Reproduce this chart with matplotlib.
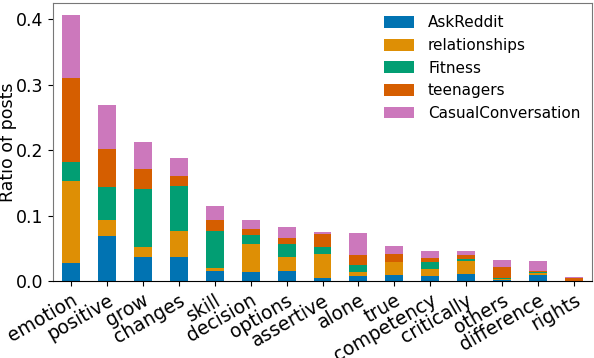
import matplotlib
matplotlib.use("Agg")
import matplotlib.pyplot as plt
import numpy as np

categories = ["emotion", "positive", "grow", "changes", "skill", "decision", "options",
              "assertive", "alone", "true", "competency", "critically", "others",
              "difference", "rights"]
askreddit = [0.027, 0.069, 0.036, 0.037, 0.015, 0.014, 0.016, 0.004, 0.008, 0.009, 0.007, 0.010, 0.001, 0.009, 0.000]
relationships = [0.126, 0.024, 0.016, 0.039, 0.005, 0.043, 0.020, 0.038, 0.006, 0.020, 0.012, 0.021, 0.0015, 0.003, 0.000]
fitness = [0.029, 0.050, 0.089, 0.069, 0.056, 0.014, 0.021, 0.0095, 0.011, 0.0, 0.010, 0.003, 0.002, 0.002, 0.0]
teenagers = [0.129, 0.059, 0.030, 0.016, 0.018, 0.009, 0.008, 0.020, 0.014, 0.012, 0.006, 0.006, 0.0165, 0.0015, 0.005]
casual = [0.095, 0.067, 0.041, 0.027, 0.021, 0.014, 0.018, 0.0035, 0.034, 0.012, 0.011, 0.006, 0.0105, 0.0148, 0.001]

series = [("AskReddit", askreddit, "#0173b2"),
          ("relationships", relationships, "#de8f05"),
          ("Fitness", fitness, "#029e73"),
          ("teenagers", teenagers, "#d55e00"),
          ("CasualConversation", casual, "#cc78bc")]

fig = plt.figure(figsize=(5.94, 3.58), dpi=100)
ax = fig.add_axes([53/594, 1 - 281/358, (592-53)/594, (281-3)/358])

x = np.arange(len(categories))
bottom = np.zeros(len(categories))
for name, vals, col in series:
    v = np.array(vals)
    ax.bar(x, v, width=0.5, bottom=bottom, color=col, label=name)
    bottom += v

ax.set_xlim(-0.5, len(categories) - 0.5)
ax.set_ylim(0, 0.425)
ax.set_yticks([0.0, 0.1, 0.2, 0.3, 0.4])
ax.set_xticks(x)
ax.set_xticklabels(categories, rotation=30, ha="right", rotation_mode="anchor", fontsize=13.5)
ax.tick_params(axis="y", labelsize=12.5)
ax.set_ylabel("Ratio of posts", fontsize=12.5)
ax.yaxis.set_label_coords(-0.066, 0.5)
for s in ["left", "top", "right"]:
    ax.spines[s].set_color("#777777")
ax.spines["bottom"].set_color("black")
ax.legend(loc="upper right", frameon=False, fontsize=11, handlelength=2.0,
          handleheight=0.8, handletextpad=0.9, labelspacing=0.5,
          bbox_to_anchor=(1.004, 1.005))

fig.savefig("out.png", dpi=100)
